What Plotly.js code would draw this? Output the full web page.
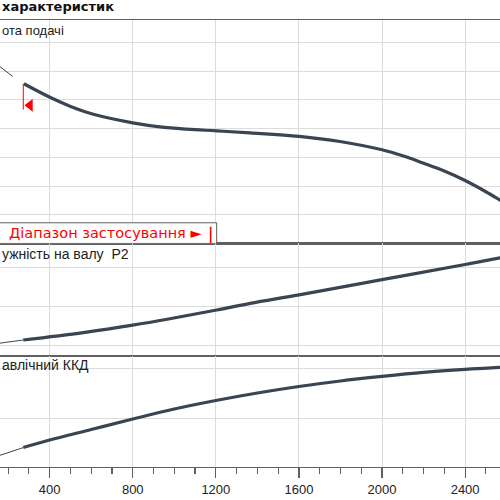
<!DOCTYPE html>
<html>
<head>
<meta charset="utf-8">
<script src="https://cdn.plot.ly/plotly-3.0.1.min.js"></script>
<style>
  html, body { margin: 0; padding: 0; background: #fff; }
  #chart { width: 500px; height: 500px; }
</style>
</head>
<body>
<div id="chart"></div>
<script>
// flow axis (Q) shared by all three panels
const qRange = [161, 2568];

// head curve (top panel)
const headQ = [276, 401, 498, 578, 658, 800, 931, 1060, 1204, 1365, 1601, 1798, 2000, 2100, 2197, 2300, 2400, 2500, 2568, 2580];
const headH = [5.56, 5.09, 4.78, 4.57, 4.41, 4.20, 4.06, 3.98, 3.92, 3.85, 3.73, 3.55, 3.26, 3.05, 2.80, 2.52, 2.19, 1.80, 1.51, 1.46];
const headThinQ = [150, 222];
const headThinH = [6.21, 5.82];

// shaft power P2 (middle panel)
const powerQ = [273, 562, 800, 1204, 1365, 1601, 2000, 2400, 2568, 2580];
const powerP = [1.15, 1.34, 1.53, 1.92, 2.09, 2.31, 2.70, 3.09, 3.26, 3.27];
const powerThinQ = [150, 273];
const powerThinP = [1.06, 1.15];

// hydraulic efficiency (bottom panel)
const effQ = [273, 400, 600, 800, 1000, 1200, 1400, 1600, 1800, 2000, 2200, 2400, 2568, 2580];
const effE = [0.42, 0.57, 0.78, 0.99, 1.19, 1.36, 1.51, 1.64, 1.75, 1.84, 1.92, 1.98, 2.02, 2.02];
const effThinQ = [150, 273];
const effThinE = [0.25, 0.42];

// application range
const rangeStart = 273;
const rangeEnd = 1175;

const curveColor = '#3b4552';
const borderColor = '#5f5f5f';
const gridColor = '#dcdcdc';
const red = '#ff0000';

function thick(x, y, ya) {
  return { x, y, xaxis: ya.replace('y', 'x'), yaxis: ya, mode: 'lines', type: 'scatter',
    line: { color: curveColor, width: 3.2, shape: 'spline', smoothing: 1 }, hoverinfo: 'skip', showlegend: false };
}
function thin(x, y, ya) {
  return { x, y, xaxis: ya.replace('y', 'x'), yaxis: ya, mode: 'lines', type: 'scatter',
    line: { color: curveColor, width: 1 }, hoverinfo: 'skip', showlegend: false };
}

const startIdx = 0;
const traces = [
  thin(headThinQ, headThinH, 'y'),
  thick(headQ, headH, 'y'),
  thin(powerThinQ, powerThinP, 'y2'),
  thick(powerQ, powerP, 'y2'),
  thin(effThinQ, effThinE, 'y3'),
  thick(effQ, effE, 'y3'),
  // start of application range: bar + arrow
  { x: [rangeStart, rangeStart], y: [headH[startIdx], headH[startIdx] - 0.9], mode: 'lines', type: 'scatter',
    line: { color: red, width: 1 }, hoverinfo: 'skip', showlegend: false },
  { x: [rangeStart + 32], y: [headH[startIdx] - 0.75], mode: 'markers', type: 'scatter',
    marker: { symbol: 'triangle-left', color: red, size: 11 }, hoverinfo: 'skip', showlegend: false },
];

const plotTop = 20, plotBottom = 466.7, plotH = plotBottom - plotTop;
const py = p => (plotBottom - p) / plotH;

const baseX = {
  range: qRange, showgrid: true, gridcolor: gridColor, gridwidth: 1,
  tick0: 0, dtick: 400, zeroline: false,
  showline: true, mirror: true, linecolor: borderColor, linewidth: 1.3,
  showticklabels: false, ticks: ''
};
const baseY = {
  showgrid: true, gridcolor: gridColor, gridwidth: 1, tick0: 0, dtick: 1, zeroline: false,
  showline: true, mirror: true, linecolor: borderColor, linewidth: 1.3,
  showticklabels: false, ticks: ''
};

const layout = {
  width: 500, height: 500,
  margin: { l: 0, r: 0, t: plotTop, b: 500 - plotBottom, pad: 0 },
  paper_bgcolor: '#fff', plot_bgcolor: '#fff',
  font: { family: 'Liberation Sans, Arial, sans-serif', color: '#222', size: 13 },
  xaxis: { ...baseX, anchor: 'y' },
  xaxis2: { ...baseX, anchor: 'y2' },
  xaxis3: { ...baseX, anchor: 'y3', showticklabels: true, ticks: 'outside', ticklen: 10,
    tickcolor: borderColor, tickwidth: 1.2,
    tickfont: { size: 13, color: '#222', family: 'Liberation Sans, Arial, sans-serif' },
    minor: { dtick: 100, tick0: 0, ticks: 'outside', ticklen: 6, tickcolor: borderColor, tickwidth: 1.2, showgrid: false } },
  yaxis: { ...baseY, domain: [py(243.3), 1], range: [0, 7.78], anchor: 'x' },
  yaxis2: { ...baseY, domain: [py(355.7), py(243.3)], range: [0.74, 3.63], anchor: 'x2' },
  yaxis3: { ...baseY, domain: [0, py(355.7)], range: [0.032, 2.25], anchor: 'x3' },
  shapes: [
    { type: 'rect', xref: 'x', yref: 'y', x0: 100, x1: 1204, y0: 0, y1: 0.72,
      line: { color: borderColor, width: 1 }, fillcolor: '#fff', layer: 'above' },
    { type: 'line', xref: 'x', yref: 'y', x0: rangeEnd, x1: rangeEnd, y0: 0, y1: 0.58,
      line: { color: red, width: 1.6 }, layer: 'above' }
  ],
  annotations: [
    { text: '<b>характеристик</b>', xref: 'paper', yref: 'paper', x: 0, y: py(7), xanchor: 'left', yanchor: 'middle',
      showarrow: false, font: { family: 'DejaVu Sans, sans-serif', size: 13, color: '#111' } },
    { text: 'ота подачі', xref: 'paper', yref: 'paper', x: 0, y: py(30), xanchor: 'left', yanchor: 'middle',
      showarrow: false, font: { size: 13, color: '#222' } },
    { text: 'ужність на валу  P2', xref: 'paper', yref: 'paper', x: 0, y: py(254), xanchor: 'left', yanchor: 'middle',
      showarrow: false, font: { size: 14, color: '#222' } },
    { text: 'авлічний ККД', xref: 'paper', yref: 'paper', x: 0, y: py(365), xanchor: 'left', yanchor: 'middle',
      showarrow: false, font: { size: 14, color: '#222' } },
    { text: 'Діапазон застосування ►', xref: 'x', yref: 'y', x: 194, y: 0.36, xanchor: 'left', yanchor: 'middle',
      showarrow: false, font: { family: 'DejaVu Sans, sans-serif', size: 14.5, color: red } }
  ]
};

Plotly.newPlot('chart', traces, layout, { displayModeBar: false, staticPlot: true });
</script>
</body>
</html>
